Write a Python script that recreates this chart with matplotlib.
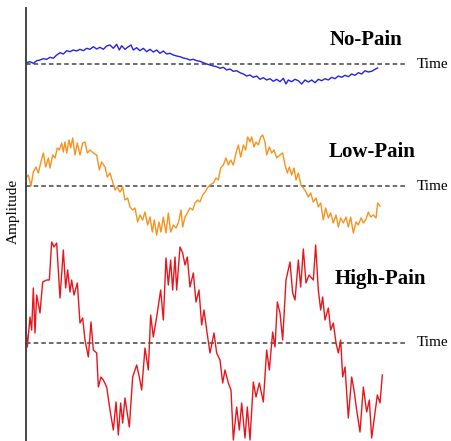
import matplotlib
matplotlib.use("Agg")
import matplotlib.pyplot as plt

plt.rcParams['font.family'] = ['Liberation Serif', 'DejaVu Serif']

# time samples (arbitrary units) and amplitudes
no_t = [0, 12, 22, 32, 42, 52, 62, 72, 82, 92, 102, 112, 122, 132, 142, 152, 162, 172, 182,
        192, 202, 212, 222, 232, 242, 252, 262, 272, 280, 287, 297, 307, 315, 322, 332, 342,
        352, 362, 372, 382, 392, 402, 412, 422, 432, 442, 452, 462, 472, 482, 492, 502, 512,
        522, 532, 542, 552, 562, 572, 582, 592, 602, 612, 622, 632, 642, 652, 662, 672, 682,
        692, 702, 712, 722, 732, 742, 752, 762, 772, 780, 787, 797, 807, 817, 827, 837, 847,
        857, 867, 877, 887, 897, 907, 917, 927, 937, 947, 957, 967, 977, 987, 997, 1007, 1017,
        1027, 1037, 1047, 1055]
no_amp = [1.3, 2.3, 0.7, 3.3, 4, 5.3, 4.7, 6.7, 5.7, 9, 11.3, 10, 13.3, 12.3, 14, 13, 14.7,
          13.3, 15.7, 14.7, 17.3, 15, 16.7, 14.7, 18, 19, 15.7, 19.7, 14, 18.3, 14.7, 17.3, 19,
          14, 16.3, 13.3, 15.7, 12.3, 14.7, 12, 14, 10.7, 13, 10, 10.7, 9, 8, 7.3, 6, 5.3, 4,
          4.7, 3.3, 2.7, 1.3, 0, -1, -2, -2.7, -4.3, -3.3, -6, -5, -7.3, -6.7, -8.7, -10, -12,
          -11, -13.3, -12, -15.3, -13.7, -16, -14.7, -17.3, -15.3, -17.7, -14.3, -20, -16,
          -17.7, -15.3, -16.7, -20, -16, -18, -16, -18.7, -15.3, -16.7, -14.7, -16, -13.3,
          -14.7, -12, -13.3, -11.3, -12.7, -10, -11.3, -8.7, -10, -6.7, -8, -7.3, -5.3, -4]

low_t = [0, 7, 15, 22, 30, 37, 44, 52, 59, 67, 72, 80, 87, 94, 100, 107, 112, 117, 122, 129,
         134, 140, 147, 154, 162, 170, 177, 184, 192, 202, 212, 220, 227, 237, 244, 252, 260,
         267, 274, 282, 290, 297, 305, 312, 320, 327, 335, 342, 350, 357, 365, 372, 379, 385,
         392, 399, 405, 412, 420, 427, 434, 442, 450, 457, 465, 470, 477, 484, 492, 500, 507,
         515, 522, 530, 537, 544, 552, 562, 570, 577, 584, 592, 600, 607, 614, 622, 630, 637,
         644, 652, 659, 665, 672, 677, 684, 690, 697, 704, 710, 717, 722, 730, 737, 744, 752,
         762, 770, 777, 784, 790, 797, 804, 810, 817, 825, 832, 840, 847, 854, 862, 870, 877,
         884, 892, 899, 907, 914, 922, 930, 937, 944, 952, 960, 967, 974, 982, 990, 997, 1005,
         1012, 1019, 1027, 1034, 1042, 1050, 1055, 1062]
low_amp = [8, 11, 0, 14, 19, 13, 23, 33, 19, 28, 18, 31, 28, 38, 36, 43, 34, 44, 33, 46, 38,
           48, 31, 43, 31, 43, 44, 33, 36, 33, 31, 16, 24, 19, 9, 13, 4, -4, -1, -6, -1, -14,
           -12, -21, -24, -22, -36, -29, -34, -26, -39, -31, -46, -34, -49, -36, -46, -31, -47,
           -27, -46, -39, -42, -37, -24, -41, -31, -27, -22, -24, -17, -14, -16, -9, -6, -2, 1,
           3, 8, 6, 18, 21, 28, 21, 26, 21, 33, 41, 29, 41, 36, 49, 44, 49, 39, 44, 41, 49, 51,
           44, 31, 39, 33, 36, 28, 31, 33, 21, 13, 19, 11, 18, 6, 13, 1, -2, -6, -11, -7, -16,
           -12, -21, -17, -34, -22, -32, -27, -37, -29, -41, -32, -37, -31, -41, -31, -47, -36,
           -39, -32, -37, -34, -26, -31, -29, -32, -17, -20]

high_t = [0, 4, 12, 17, 22, 27, 32, 42, 50, 62, 70, 77, 84, 92, 102, 112, 119, 125, 132, 137,
          144, 154, 162, 170, 177, 187, 195, 202, 212, 217, 225, 232, 242, 252, 262, 270, 277,
          284, 290, 297, 310, 320, 332, 340, 347, 357, 367, 374, 382, 392, 404, 412, 420, 427,
          434, 440, 447, 452, 462, 470, 477, 484, 492, 502, 510, 519, 527, 534, 542, 552, 564,
          572, 582, 590, 597, 607, 615, 622, 632, 640, 647, 657, 664, 672, 682, 690, 700, 712,
          722, 730, 740, 747, 754, 762, 770, 780, 792, 800, 807, 817, 824, 832, 840, 849, 862,
          869, 877, 884, 890, 897, 907, 914, 922, 930, 937, 944, 950, 957, 967, 977, 984, 992,
          1002, 1012, 1022, 1030, 1037, 1047, 1054, 1062, 1069]
high_amp = [15, -4, 26, 13, 55, 10, 48, 30, 61, 63, 63, 101, 96, 100, 45, 93, 55, 73, 51, 63,
            48, 60, 20, 25, 3, -14, 21, -7, -10, -44, -34, -37, -44, -67, -87, -59, -92, -60,
            -80, -55, -84, -34, -22, -34, -47, -5, -27, 28, 6, 26, 53, 23, 85, 58, 83, 53, 86,
            53, 96, 90, 78, 86, 56, 70, 41, 53, 18, 33, 13, -10, 10, -10, -17, -40, -27, -40,
            -47, -97, -64, -87, -60, -95, -64, -97, -39, -54, -40, -59, -7, -27, 11, -4, 41,
            30, 3, 63, 81, 50, 43, 83, 56, 94, 60, 68, 63, 98, 53, 33, 46, 23, 35, 13, 20, 0,
            -10, 3, -34, -24, -75, -34, -47, -67, -89, -44, -69, -57, -95, -70, -52, -60, -32]

labels = ["No-Pain", "Low-Pain", "High-Pain"]
colors = ["#2424e0", "#f7921e", "#e8161c"]

fig = plt.figure(figsize=(4.51, 4.41), dpi=100)
ax = fig.add_axes([0, 0, 1, 1])
ax.set_xlim(-78, 1275)
ax.set_ylim(441, 0)
ax.axis("off")

# baselines in pixel rows, label anchors
bases = [64, 186, 343]
label_pos = [(1020, 40), (1038, 152), (1062, 279)]
series = [(no_t, no_amp), (low_t, low_amp), (high_t, high_amp)]

for (t, amp), base, lab, col, (lx, ly) in zip(series, bases, labels, colors, label_pos):
    ax.plot([0, 1144], [base, base], color="#444444", lw=1.1, ls=(0, (3, 2)))
    ax.plot(t, [base - a for a in amp], color=col, lw=1.0)
    ax.text(1172, base, "Time", fontsize=11, va="center", ha="left")
    ax.text(lx, ly, lab, fontsize=15, fontweight="bold", va="center", ha="center")

ax.plot([0, 0], [8, 441], color="#444444", lw=1.4)
ax.text(-39, 211, "Amplitude", fontsize=11, rotation=90, va="center", ha="center")

fig.savefig("out.png", dpi=100)
